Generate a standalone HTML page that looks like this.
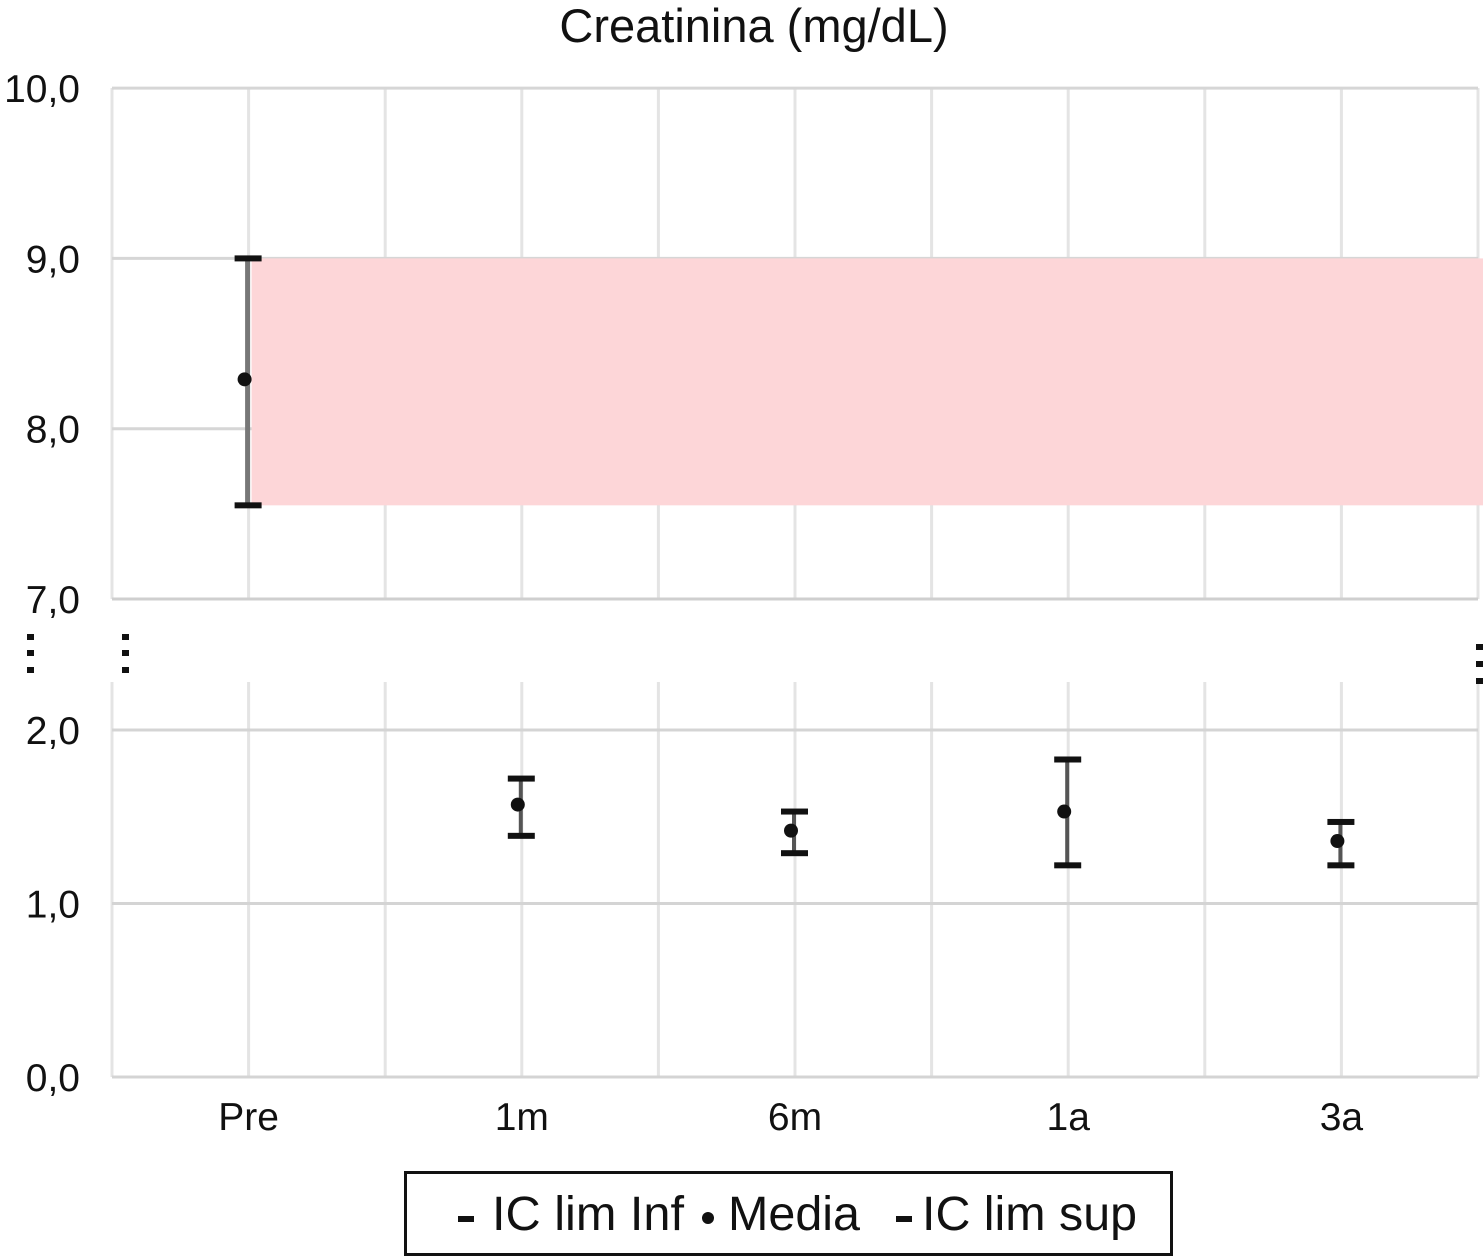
<!DOCTYPE html>
<html><head><meta charset="utf-8"><style>
html,body{margin:0;padding:0;background:#fff;}
svg{display:block;font-family:"Liberation Sans",sans-serif;}
</style></head><body>
<svg id="chart" width="1483" height="1257" viewBox="0 0 1483 1257" xmlns="http://www.w3.org/2000/svg">
<text x="754" y="42" font-size="47" text-anchor="middle" fill="#111">Creatinina (mg/dL)</text>
<g id="grid"></g>
<g id="axes"></g>
<g id="marks"></g>
<g fill="#111">
  <rect x="27" y="634" width="7" height="6"/><rect x="27" y="650" width="7" height="6"/><rect x="27" y="667" width="7" height="6"/>
  <rect x="122" y="634" width="7" height="6"/><rect x="122" y="650" width="7" height="6"/><rect x="122" y="667" width="7" height="6"/>
  <rect x="1476" y="644" width="7" height="6"/><rect x="1476" y="661" width="7" height="6"/><rect x="1476" y="678" width="7" height="6"/>
</g>
<g>
  <rect x="405.5" y="1172.5" width="766" height="82" fill="#fff" stroke="#111" stroke-width="3"/>
  <rect x="458" y="1216" width="16" height="6" fill="#111"/>
  <text x="492" y="1230" font-size="48" textLength="192" lengthAdjust="spacingAndGlyphs" fill="#111">IC lim Inf</text>
  <circle cx="708" cy="1218" r="6" fill="#111"/>
  <text x="728" y="1230" font-size="48" textLength="132" lengthAdjust="spacingAndGlyphs" fill="#111">Media</text>
  <rect x="896" y="1216" width="16" height="6" fill="#111"/>
  <text x="922" y="1230" font-size="48" textLength="215" lengthAdjust="spacingAndGlyphs" fill="#111">IC lim sup</text>
</g>
</svg>
<script>
const categories = ["Pre","1m","6m","1a","3a"];
const meanValues = [8.29, 1.57, 1.42, 1.53, 1.36];
const lowValues = [7.55, 1.39, 1.29, 1.22, 1.22];
const highValues = [9.0, 1.72, 1.53, 1.83, 1.47];
const topTicks = ["7,0","8,0","9,0","10,0"];
const topTickValues = [7, 8, 9, 10];
const bottomTicks = ["0,0","1,0","2,0"];
const bottomTickValues = [0, 1, 2];

const NS = "http://www.w3.org/2000/svg";
const grid = document.getElementById('grid');
const axes = document.getElementById('axes');
const marks = document.getElementById('marks');
function mk(tag, attrs, parent){const e=document.createElementNS(NS,tag);for(const k in attrs)e.setAttribute(k,attrs[k]);parent.appendChild(e);return e;}

const X0 = 112, BAND = 273.2;
function xPos(i){return X0 + BAND*(i+0.5) - 2;}
function yTop(v){return 599 - (v-7)*170.3;}
function yBot(v){return 1077 - v*173.5;}
const XR = X0 + BAND*categories.length;

for (let k=0;k<=categories.length*2;k++){
  const x = X0 + k*BAND/2;
  const l = mk('line',{x1:x,x2:x,y1:88,y2:599,stroke:'#e4e4e4','stroke-width':3},grid);
  
  
}
topTickValues.forEach((v,i)=>{
  const y=yTop(v);
  const l=mk('line',{x1:X0,x2:XR,y1:y,y2:y,stroke:i===0?'#cfcfcf':'#d6d6d6','stroke-width':3},grid);
  
  
  const t=mk('text',{x:80,y:y+14,'font-size':39,'text-anchor':'end',fill:'#111'},axes);
  t.textContent=topTicks[i];
  
  
});
for (let k=0;k<=categories.length*2;k++){
  const x = X0 + k*BAND/2;
  const l = mk('line',{x1:x,x2:x,y1:682,y2:1077,stroke:'#e4e4e4','stroke-width':3},grid);
  
  
}
bottomTickValues.forEach((v,i)=>{
  const y=yBot(v);
  const l=mk('line',{x1:X0,x2:XR,y1:y,y2:y,stroke:'#d4d4d4','stroke-width':3},grid);
  
  
  const t=mk('text',{x:80,y:y+14,'font-size':39,'text-anchor':'end',fill:'#111'},axes);
  t.textContent=bottomTicks[i];
  
  
});
categories.forEach((c,i)=>{
  const t=mk('text',{x:xPos(i)+2,y:1130,'font-size':39,'text-anchor':'middle',fill:'#111'},axes);
  t.textContent=c;
  
  
});

categories.forEach((c,i)=>{
  const isTop = meanValues[i] > 5;
  const yf = isTop ? yTop : yBot;
  const x = xPos(i)+1;
  if (isTop){
    const b=mk('rect',{x:x+4,y:yf(highValues[i]),width:1483-(x+4),height:yf(lowValues[i])-yf(highValues[i]),fill:'#fdd6d8'},marks);
    
    
  }
  const w=mk('line',{x1:x,x2:x,y1:yf(highValues[i]),y2:yf(lowValues[i]),stroke:isTop?'#777':'#555','stroke-width':isTop?5:4},marks);
  
  
  const h=mk('rect',{x:x-13,y:yf(highValues[i])-3,width:27,height:6,fill:'#111'},marks);
  
  
  const lo=mk('rect',{x:x-13,y:yf(lowValues[i])-3,width:27,height:6,fill:'#111'},marks);
  
  
  const m=mk('circle',{cx:x-3,cy:yf(meanValues[i]),r:7,fill:'#111'},marks);
  
  
});
</script>
</body></html>
